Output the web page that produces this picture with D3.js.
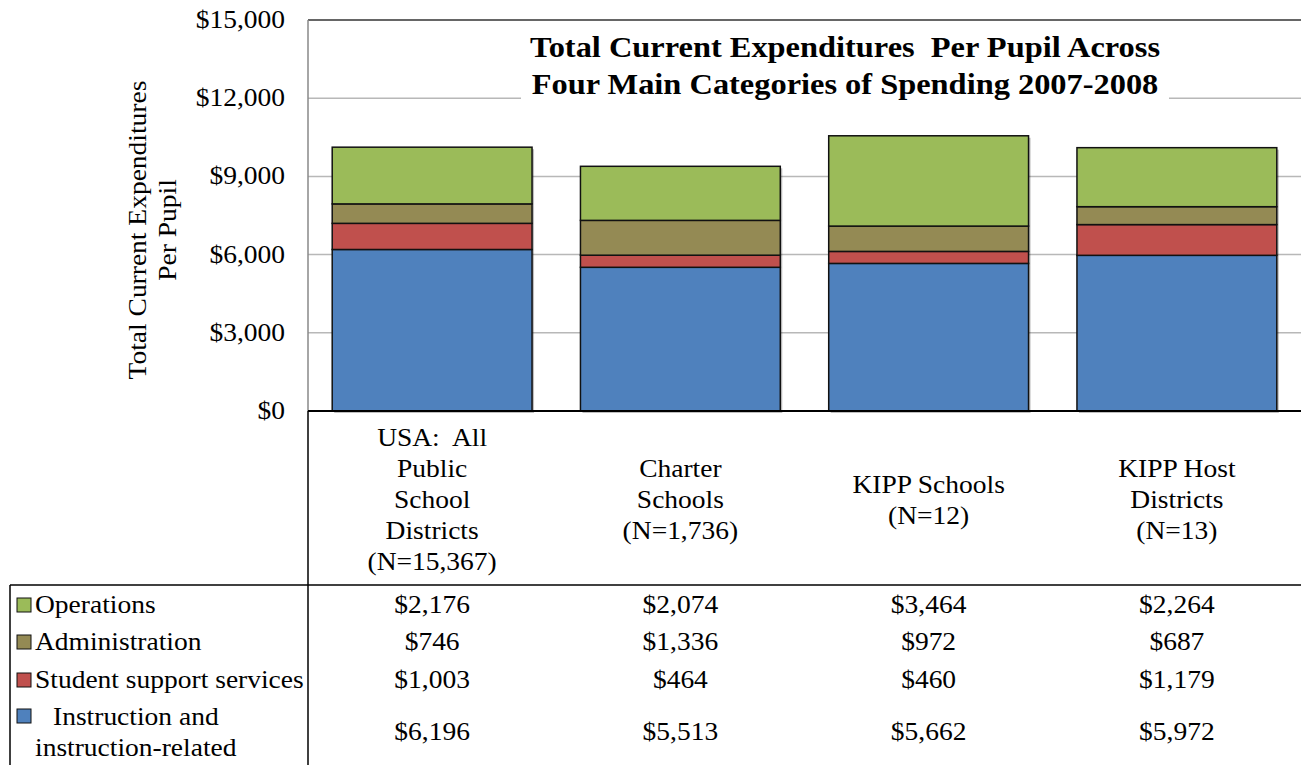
<!DOCTYPE html>
<html><head><meta charset="utf-8">
<script src="https://cdn.jsdelivr.net/npm/d3@7"></script>
<style>
body{margin:0;background:#fff;}
text{white-space:pre;}
</style></head>
<body><svg id="c" width="1301" height="765" font-family="Liberation Serif, Times New Roman, Tinos, DejaVu Serif, Noto Serif, serif"></svg>
<script>
const categories = [
  ["USA:  All","Public","School","Districts","(N=15,367)"],
  ["Charter","Schools","(N=1,736)"],
  ["KIPP Schools","(N=12)"],
  ["KIPP Host","Districts","(N=13)"]
];
const seriesNames = ["Instruction and instruction-related","Student support services","Administration","Operations"];
const instruction = [6196, 5513, 5662, 5972];
const support = [1003, 464, 460, 1179];
const administration = [746, 1336, 972, 687];
const operations = [2176, 2074, 3464, 2264];
const yTicks = [0, 3000, 6000, 9000, 12000, 15000];
const titleLines = ["Total Current Expenditures  Per Pupil Across","Four Main Categories of Spending 2007-2008"];
const yTitle = ["Total Current Expenditures","Per Pupil"];

const colors = ["#4F81BD","#C0504D","#948A54","#9BBB59"];
const SX = 1.1, FS = 25;
const svg = d3.select("#c");
const L = 308, R = 1301, T = 20, B = 411;

const rows = categories.map((c,i)=>({i, s0: instruction[i], s1: support[i], s2: administration[i], s3: operations[i]}));
const stack = d3.stack().keys(["s0","s1","s2","s3"])(rows);

const x = d3.scaleBand().domain(d3.range(categories.length)).range([L, R]).paddingInner(0.195).paddingOuter(0.0975);
const xc = d3.scaleBand().domain(d3.range(categories.length)).range([L, R]);
const y = d3.scaleLinear().domain([0, 15000]).range([B, T]);

function txt(g, px, py, s, anchor, size, weight, sx){
  return g.append("text")
    .attr("transform", `translate(${px},${py}) scale(${sx || SX},1)`)
    .attr("text-anchor", anchor || "middle")
    .attr("font-size", size || FS)
    .attr("font-weight", weight || "normal")
    .attr("fill", "#000")
    .attr("xml:space", "preserve")
    .text(s);
}

// gridlines
svg.append("g").selectAll("line").data(yTicks.filter(t=>t>0 && t<15000)).join("line")
  .attr("x1", L).attr("x2", R).attr("y1", d=>y(d)).attr("y2", d=>y(d))
  .attr("stroke", "#b8b8b8").attr("stroke-width", 1.5);
svg.append("line").attr("x1", L).attr("x2", R).attr("y1", T).attr("y2", T).attr("stroke", "#333").attr("stroke-width", 1.5);
svg.append("line").attr("x1", L).attr("x2", L).attr("y1", T).attr("y2", B).attr("stroke", "#888").attr("stroke-width", 1.5);

// title white box
svg.append("rect").attr("x", 521).attr("y", 30).attr("width", 648).attr("height", 74).attr("fill", "#fff");
const tg = svg.append("g");
titleLines.forEach((s,k)=>{
  txt(tg, 845, 57 + k*37, s, "middle", 30, "bold", 1.08);
});

// bars
const barG = svg.append("g");
stack.forEach((layer, si)=>{
  barG.selectAll(null).data(layer).join("rect")
    .attr("x", (d,i)=>x(i)+2).attr("y", d=>y(d[1])+2)
    .attr("width", x.bandwidth()).attr("height", d=>y(d[0])-y(d[1]))
    .attr("fill", "#000").attr("opacity", 0.25);
});
stack.forEach((layer, si)=>{
  barG.selectAll(null).data(layer).join("rect")
    .attr("x", (d,i)=>x(i)).attr("y", d=>y(d[1]))
    .attr("width", x.bandwidth()).attr("height", d=>y(d[0])-y(d[1]))
    .attr("fill", colors[si]).attr("stroke", "#111").attr("stroke-width", 1.5);
});

// y axis labels
const ya = svg.append("g");
yTicks.forEach(t=>{
  txt(ya, 285, y(t)+8, "$" + d3.format(",")(t), "end", FS);
});
yTitle.forEach((s,k)=>{
  ya.append("text").attr("transform", `translate(${146 + k*30},230) rotate(-90) scale(${SX},1)`)
    .attr("text-anchor","middle").attr("font-size", FS).attr("fill","#000").text(s);
});

// x axis line and table lines
svg.append("line").attr("x1", L).attr("x2", R).attr("y1", B).attr("y2", B).attr("stroke", "#000").attr("stroke-width", 2);
svg.append("line").attr("x1", L).attr("x2", L).attr("y1", B).attr("y2", 765).attr("stroke", "#000").attr("stroke-width", 1.5);
svg.append("line").attr("x1", 10).attr("x2", R).attr("y1", 585).attr("y2", 585).attr("stroke", "#000").attr("stroke-width", 1.5);
svg.append("line").attr("x1", 10).attr("x2", 10).attr("y1", 585).attr("y2", 765).attr("stroke", "#000").attr("stroke-width", 1.5);

// category labels
const cg = svg.append("g");
categories.forEach((lines, i)=>{
  const cx = xc(i) + xc.bandwidth()/2;
  const n = lines.length, lh = 31, cy = 499;
  lines.forEach((s,k)=>{
    txt(cg, cx, cy + (k - (n-1)/2)*lh + 9, s, "middle", FS);
  });
});

// data table
const rowsY = [604, 641, 679, 731];
const tableSeries = [operations, administration, support, instruction];
const tableColors = [colors[3], colors[2], colors[1], colors[0]];
const tabG = svg.append("g");
tableSeries.forEach((arr, r)=>{
  arr.forEach((v,i)=>{
    const cx = xc(i) + xc.bandwidth()/2;
    txt(tabG, cx, rowsY[r] + 9, "$" + d3.format(",")(v), "middle", FS);
  });
});
const legY = [605, 642, 680, 716];
const legLabels = [["Operations"],["Administration"],["Student support services"],["Instruction and","instruction-related"]];
legY.forEach((ly, r)=>{
  tabG.append("rect").attr("x", 17).attr("y", ly-7).attr("width", 14).attr("height", 14)
    .attr("fill", tableColors[r]).attr("stroke", "#111").attr("stroke-width", 1);
});
legLabels.forEach((lines, r)=>{
  lines.forEach((s,k)=>{
    const tx = (r===3 && k===0) ? 53 : 35;
    txt(tabG, tx, [604,641,679,716][r] + 9 + k*31, s, "start", FS);
  });
});
</script></body></html>
